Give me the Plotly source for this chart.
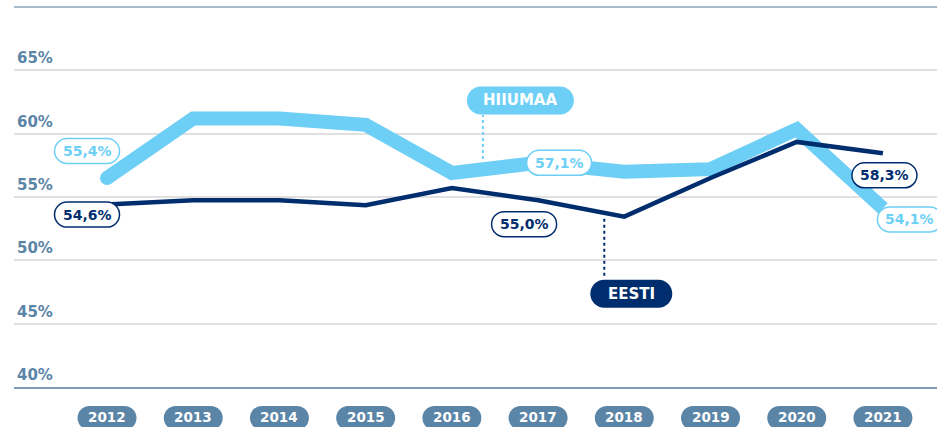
import plotly.graph_objects as go

years = [2012, 2013, 2014, 2015, 2016, 2017, 2018, 2019, 2020, 2021]
year_labels = [str(y) for y in years]
hiiumaa = [56.5, 61.2, 61.2, 60.7, 56.9, 57.7, 57.0, 57.2, 60.35, 54.1]
eesti = [54.4, 54.75, 54.75, 54.35, 55.7, 54.75, 53.45, 56.5, 59.35, 58.45]
y_ticks = [40, 45, 50, 55, 60, 65]
y_tick_labels = ["40%", "45%", "50%", "55%", "60%", "65%"]

# value labels: (year index, text)
hiiumaa_labels = [(0, "55,4%"), (5, "57,1%"), (9, "54,1%")]
eesti_labels = [(0, "54,6%"), (5, "55,0%"), (9, "58,3%")]

LIGHT = "#6dcff6"
NAVY = "#002d6e"
STEEL = "#5b85a7"
GRID = "#e0e0e0"
FONT = "DejaVu Sans"

fig = go.Figure()
fig.add_trace(go.Scatter(x=years, y=hiiumaa, mode="lines",
                         line=dict(color=LIGHT, width=14), hoverinfo="skip"))
fig.add_trace(go.Scatter(x=[years[0]], y=[hiiumaa[0]], mode="markers",
                         marker=dict(color=LIGHT, size=14), hoverinfo="skip"))
fig.add_trace(go.Scatter(x=years, y=eesti, mode="lines",
                         line=dict(color=NAVY, width=4.5), hoverinfo="skip"))


def pill(cx, cy, w, h, r):
    k = 0.5523 * r
    x0, x1 = cx - w / 2, cx + w / 2
    y0, y1 = cy - h / 2, cy + h / 2
    return (f"M {x0+r},{y1} L {x1-r},{y1} C {x1-r+k},{y1} {x1},{y1-r+k} {x1},{y1-r} "
            f"L {x1},{y0+r} C {x1},{y0+r-k} {x1-r+k},{y0} {x1-r},{y0} L {x0+r},{y0} "
            f"C {x0+r-k},{y0} {x0},{y0+r-k} {x0},{y0+r} L {x0},{y1-r} "
            f"C {x0},{y1-r+k} {x0+r-k},{y1} {x0+r},{y1} Z")


shapes = []
annotations = []

# top line
shapes.append(dict(type="line", xref="paper", yref="paper", x0=0, x1=1, y0=1, y1=1,
                   line=dict(color="#8aa5bd", width=1.5)))

# y tick labels
for v, t in zip(y_ticks, y_tick_labels):
    annotations.append(dict(xref="paper", yref="y", x=0, y=v, text=t, showarrow=False,
                            xanchor="left", yanchor="bottom", xshift=1, yshift=1,
                            font=dict(family=FONT, size=15, color=STEEL, weight="bold")))

# year pills
for yr, t in zip(years, year_labels):
    shapes.append(dict(type="path", xref="x", yref="paper", xsizemode="pixel",
                       ysizemode="pixel", xanchor=yr, yanchor=0,
                       path=pill(0, -31, 59, 24, 12), fillcolor=STEEL,
                       line=dict(width=0), layer="above"))
    annotations.append(dict(xref="x", yref="paper", x=yr, y=0, text=t, showarrow=False,
                            xanchor="center", yanchor="middle", yshift=-30,
                            font=dict(family=FONT, size=13.5, color="white", weight="bold")))

# value labels
offsets_h = {0: (-20, 27), 5: (21, 0), 9: (27, -11)}
offsets_e = {0: (-20, -10), 5: (-14, -24), 9: (1.5, -22)}
for series, labels, offs, col in [(hiiumaa, hiiumaa_labels, offsets_h, LIGHT),
                                  (eesti, eesti_labels, offsets_e, NAVY)]:
    for idx, t in labels:
        dx, dy = offs[idx]
        shapes.append(dict(type="path", xref="x", yref="y", xsizemode="pixel",
                           ysizemode="pixel", xanchor=years[idx], yanchor=series[idx],
                           path=pill(dx, dy, 65, 25, 12.5), fillcolor="white",
                           line=dict(color=col, width=1.5), layer="above"))
        annotations.append(dict(xref="x", yref="y", x=years[idx], y=series[idx], text=t,
                                showarrow=False, xanchor="center", yanchor="middle",
                                xshift=dx, yshift=dy,
                                font=dict(family=FONT, size=14, color=col, weight="bold")))

# series name callouts
i16 = years.index(2016)
shapes.append(dict(type="line", xref="x", yref="y", xsizemode="pixel", ysizemode="pixel",
                   xanchor=years[i16], yanchor=hiiumaa[i16], x0=31, x1=31, y0=14, y1=58,
                   line=dict(color=LIGHT, width=2, dash="dot"), layer="above"))
shapes.append(dict(type="path", xref="x", yref="y", xsizemode="pixel", ysizemode="pixel",
                   xanchor=years[i16], yanchor=hiiumaa[i16],
                   path=pill(68.5, 72.5, 107, 28, 14), fillcolor=LIGHT,
                   line=dict(width=0), layer="above"))
annotations.append(dict(xref="x", yref="y", x=years[i16], y=hiiumaa[i16], text="HIIUMAA",
                        showarrow=False, xanchor="center", yanchor="middle",
                        xshift=68.5, yshift=72.5,
                        font=dict(family=FONT, size=15, color="white", weight="bold")))

i18 = years.index(2018)
shapes.append(dict(type="line", xref="x", yref="y", xsizemode="pixel", ysizemode="pixel",
                   xanchor=years[i18], yanchor=eesti[i18], x0=-20, x1=-20, y0=-2, y1=-60,
                   line=dict(color=NAVY, width=2, dash="dot"), layer="above"))
shapes.append(dict(type="path", xref="x", yref="y", xsizemode="pixel", ysizemode="pixel",
                   xanchor=years[i18], yanchor=eesti[i18],
                   path=pill(7, -77, 82, 28, 14), fillcolor=NAVY,
                   line=dict(width=0), layer="above"))
annotations.append(dict(xref="x", yref="y", x=years[i18], y=eesti[i18], text="EESTI",
                        showarrow=False, xanchor="center", yanchor="middle",
                        xshift=7, yshift=-77,
                        font=dict(family=FONT, size=15, color="white", weight="bold")))

fig.update_layout(
    width=938, height=427,
    margin=dict(l=14, r=1, t=7, b=40),
    paper_bgcolor="white", plot_bgcolor="white",
    showlegend=False,
    xaxis=dict(range=[years[0] - 1.079, years[-1] + 0.627], showgrid=False,
               zeroline=False, showticklabels=False, ticks="",
               showline=True, linecolor="#7f9db8", linewidth=2),
    yaxis=dict(range=[40, 70], tickvals=y_ticks[1:], showgrid=True, gridcolor=GRID,
               gridwidth=1.5, zeroline=False, showticklabels=False, ticks=""),
    shapes=shapes, annotations=annotations,
)

fig.write_html("out.html", config={"displayModeBar": False},
               post_script="document.body.style.margin='0';document.body.style.overflow='hidden';")
